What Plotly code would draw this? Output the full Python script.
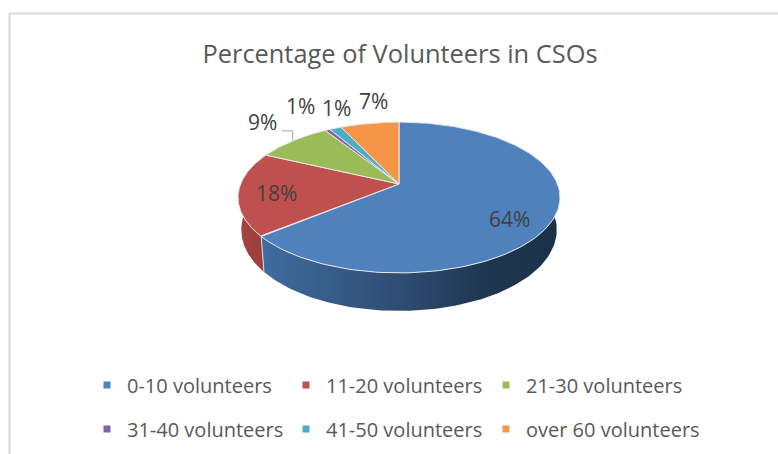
import numpy as np
import plotly.graph_objects as go

# ---- data ----
categories = ["0-10 volunteers", "11-20 volunteers", "21-30 volunteers",
              "31-40 volunteers", "41-50 volunteers", "over 60 volunteers"]
shares = [64, 18, 9, 0.6, 1.4, 7]
colors = ["#4F81BD", "#C0504D", "#9BBB59", "#8064A2", "#4BACC6", "#F79646"]
title = "Percentage of Volunteers in CSOs"

# ---- look of the tilted pie (perspective projection of a unit disc) ----
CX, CY, R, A, K = 399, 184, 158.4, 73, 0.179
FONT = "Open Sans"
label_anchor = [(509, 219), (276, 193), (262, 122), (300, 106), (336, 108), (373, 101)]
legend_pos = [(87, 385), (286, 385), (486, 385), (87, 429), (286, 429), (486, 429)]


def project(theta_deg):
    t = np.radians(theta_deg)
    u, v = np.sin(t), -np.cos(t)
    w = 1 - K * v
    return CX + R * u / w, CY + A * v / w


def project_lower(theta_deg):
    x, y = project(theta_deg)
    v = -np.cos(np.radians(theta_deg))
    return CX + (x - CX) * 0.98, y + 31 + 7 * v


total = sum(shares)
edges = np.cumsum([0] + shares) / total * 360
fig = go.Figure()

wall_fill = {
    0: [[0, "#3F6C9E"], [0.48, "#2E4B70"], [0.76, "#1F3550"], [1, "#1C3148"]],
    1: [[0, "#A64340"], [1, "#9A3D3A"]],
}
# side walls first, tops over them
for i in range(len(shares)):
    th = np.linspace(edges[i], edges[i + 1], 160)
    x, y = project(th)
    xl, yl = project_lower(th)
    wx = np.r_[x, xl[::-1], x[0]]
    wy = np.r_[y, yl[::-1], y[0]]
    kw = {}
    if i in wall_fill:
        kw["fillgradient"] = dict(type="horizontal", colorscale=wall_fill[i],
                                  start=float(x.min()), stop=float(x.max()))
    else:
        kw["fillcolor"] = colors[i]
    fig.add_trace(go.Scatter(x=wx, y=wy, mode="lines", line=dict(width=0), fill="toself",
                             hoverinfo="skip", showlegend=False, **kw))

# seam between blue and red walls
sx, sy = project(edges[1])
sxl, syl = project_lower(edges[1])
fig.add_trace(go.Scatter(x=[sx, sxl], y=[sy, syl], mode="lines",
                         line=dict(color="#D9DEE6", width=1), hoverinfo="skip", showlegend=False))

# top faces
for i in range(len(shares)):
    th = np.linspace(edges[i], edges[i + 1], 160)
    x, y = project(th)
    fig.add_trace(go.Scatter(x=np.r_[CX, x, CX], y=np.r_[CY, y, CY], mode="lines", fill="toself",
                             fillcolor=colors[i], line=dict(color="#E6E9EE", width=1),
                             name=categories[i], hoverinfo="name", showlegend=False))

# leader of the third label, ending on the slice's mid angle
mx, my = project((edges[2] + edges[3]) / 2)
fig.add_trace(go.Scatter(x=[mx - 11, mx, mx], y=[my - 10, my - 10, my], mode="lines",
                         line=dict(color="#A6A6A6", width=1), hoverinfo="skip", showlegend=False))

# legend keys: one legend box per entry, so that each sits on its own grid cell
legends = {}
for i, c in enumerate(categories):
    name = "legend" if i == 0 else f"legend{i + 1}"
    fig.add_trace(go.Scatter(x=[None], y=[None], mode="markers", name=c,
                             marker=dict(symbol="square", size=7, color=colors[i]),
                             legend=name, showlegend=True))
    lx, ly = legend_pos[i]
    legends[name] = dict(x=lx / 778, y=1 - ly / 454, xanchor="left", yanchor="middle",
                         itemwidth=30, bgcolor="rgba(0,0,0,0)",
                         font=dict(family=FONT, size=20, color="#595959"))

annotations = [
    dict(x=px, y=py, text=f"{max(round(s), 1)}%", showarrow=False,
         font=dict(family=FONT, size=21, color="#404040"), xref="x", yref="y")
    for s, (px, py) in zip(shares, label_anchor)
]

fig.update_layout(
    width=778, height=454, margin=dict(l=0, r=0, t=0, b=0),
    paper_bgcolor="white", plot_bgcolor="white",
    title=dict(text=title, x=400 / 778, xanchor="center", y=1 - 54 / 454, yanchor="middle",
               font=dict(family=FONT, size=25.4, color="#595959")),
    xaxis=dict(range=[0, 778], visible=False, fixedrange=True),
    yaxis=dict(range=[454, 0], visible=False, fixedrange=True),
    annotations=annotations,
    shapes=[
        dict(type="line", xref="paper", yref="paper", x0=9 / 778, x1=1, y0=1 - 13.5 / 454, y1=1 - 13.5 / 454,
             line=dict(color="#D9D9D9", width=2)),
        dict(type="line", xref="paper", yref="paper", x0=9.5 / 778, x1=9.5 / 778, y0=1 - 13 / 454, y1=0,
             line=dict(color="#D9D9D9", width=2)),
    ],
    **legends,
)

fig.write_html("out.html", post_script="document.body.style.margin='0';document.body.style.overflow='hidden';",
               config={"displayModeBar": False})
